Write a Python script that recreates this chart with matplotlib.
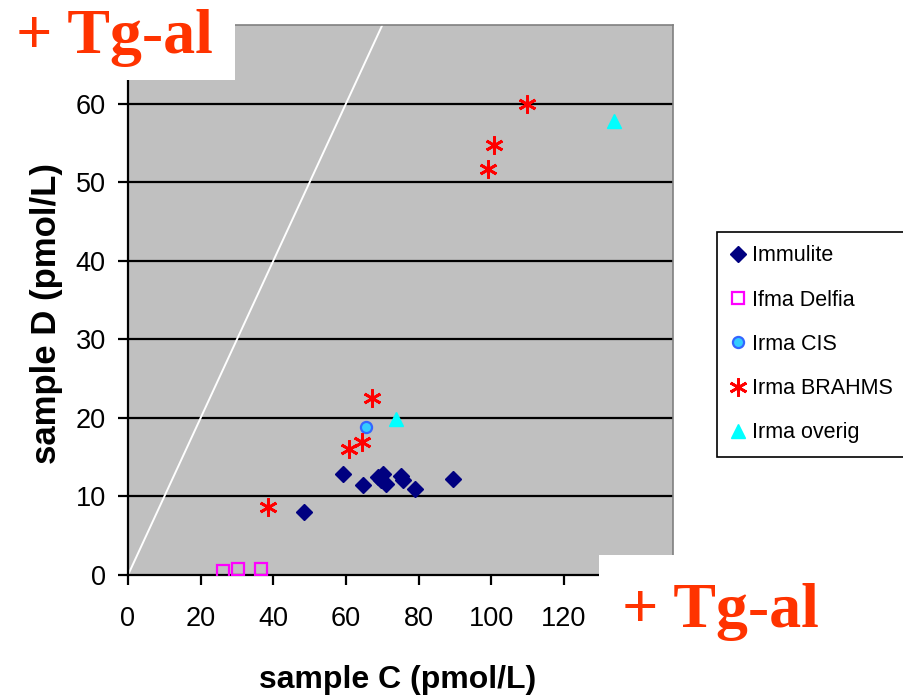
"""
plot.py - sample C vs sample D scatter (Tg assay comparison)
"""

import matplotlib
matplotlib.use("Agg")
import matplotlib.pyplot as plt
from matplotlib.patches import Rectangle

matplotlib.rcParams["font.family"] = ["Liberation Sans", "DejaVu Sans"]

# ── data
immulite_x = [48.5, 59.2, 64.6, 68.7, 69.6, 70.2, 70.9, 75.1, 75.8, 79.0, 89.5]
immulite_y = [8.0, 12.8, 11.4, 12.5, 12.1, 12.9, 11.6, 12.6, 12.1, 10.9, 12.2]

delfia_x = [26.2, 30.3, 36.7]
delfia_y = [0.5, 0.8, 0.8]

cis_x = [65.5]
cis_y = [18.9]

brahms_x = [38.4, 60.8, 64.5, 67.2, 99.2, 100.7, 109.9]
brahms_y = [8.6, 16.1, 16.9, 22.5, 51.7, 54.7, 60.0]

overig_x = [73.7, 133.8]
overig_y = [19.8, 57.8]

identity_line = [0, 70]          # y = x reference line
x_ticks = [0, 20, 40, 60, 80, 100, 120]
y_ticks = [0, 10, 20, 30, 40, 50, 60]

W, H = 904, 698
fig = plt.figure(figsize=(W / 100, H / 100), dpi=100)
ax = fig.add_axes([128 / W, 1 - 575 / H, (673 - 128) / W, (575 - 25) / H])
ax.set_facecolor("#C0C0C0")
ax.set_xlim(0, 150)
ax.set_ylim(0, 70)

# horizontal gridlines
for yv in y_ticks[1:]:
    ax.axhline(yv, color="black", linewidth=1.6, zorder=1)

ax.plot(identity_line, identity_line, color="white", linewidth=1.4, zorder=2)

ax.plot(immulite_x, immulite_y, linestyle="none", marker="D", markersize=8.5,
        color="#000080", label="Immulite", zorder=3)
ax.plot(delfia_x, delfia_y, linestyle="none", marker="s", markersize=8,
        markerfacecolor="none", markeredgecolor="#FF00FF", markeredgewidth=1.6,
        label="Ifma Delfia", zorder=3)
ax.plot(cis_x, cis_y, linestyle="none", marker="o", markersize=8,
        markerfacecolor="#33CCFF", markeredgecolor="#3366FF", markeredgewidth=1.6,
        label="Irma CIS", zorder=3)
ax.plot(brahms_x, brahms_y, linestyle="none", marker=(6, 2, 0), markersize=13,
        color="red", markeredgewidth=2.0, label="Irma BRAHMS", zorder=3)
ax.plot(overig_x, overig_y, linestyle="none", marker="^", markersize=10,
        color="#00FFFF", label="Irma overig", zorder=3)

# spines / ticks
for side in ["left", "bottom"]:
    ax.spines[side].set_color("black")
    ax.spines[side].set_linewidth(1.6)
for side in ["top", "right"]:
    ax.spines[side].set_color("#808080")
    ax.spines[side].set_linewidth(1.2)
ax.set_xticks(x_ticks)
ax.set_yticks(y_ticks)
ax.tick_params(direction="out", length=7, width=1.6, labelsize=19.5)
ax.tick_params(axis="x", pad=15)
ax.tick_params(axis="y", pad=9)

fig.text(398 / W, 1 - 680 / H, "sample C (pmol/L)", fontsize=23, fontweight="bold",
         ha="center", va="center")
fig.text(47 / W, 1 - 313 / H, "sample D (pmol/L)", fontsize=25, fontweight="bold",
         ha="center", va="center", rotation=90)

ax.legend(loc="upper left", bbox_to_anchor=(717 / W, 1 - 232 / H),
          bbox_transform=fig.transFigure, fontsize=15.5, frameon=True, fancybox=False,
          edgecolor="black", framealpha=1, borderpad=0.62, labelspacing=1.08,
          handlelength=0.7, handletextpad=0.3, borderaxespad=0)
ax.get_legend().get_frame().set_linewidth(1.2)

# white cut-out boxes with the "+ Tg-al" captions
fig.patches.append(Rectangle((0, 1 - 80 / H), 235 / W, 80 / H, transform=fig.transFigure,
                             facecolor="white", edgecolor="none", zorder=5))
fig.patches.append(Rectangle((599 / W, 0), (W - 599) / W, (H - 555) / H,
                             transform=fig.transFigure, facecolor="white",
                             edgecolor="none", zorder=5))
tg_style = dict(fontsize=46, fontweight="bold", color="#FF3300",
                family=["Liberation Serif", "DejaVu Serif"], va="baseline", zorder=6)
fig.text(16 / W, 1 - 53 / H, "+ Tg-al", **tg_style)
fig.text(622 / W, 1 - 627 / H, "+ Tg-al", **tg_style)

plt.savefig("out.png", dpi=100)
